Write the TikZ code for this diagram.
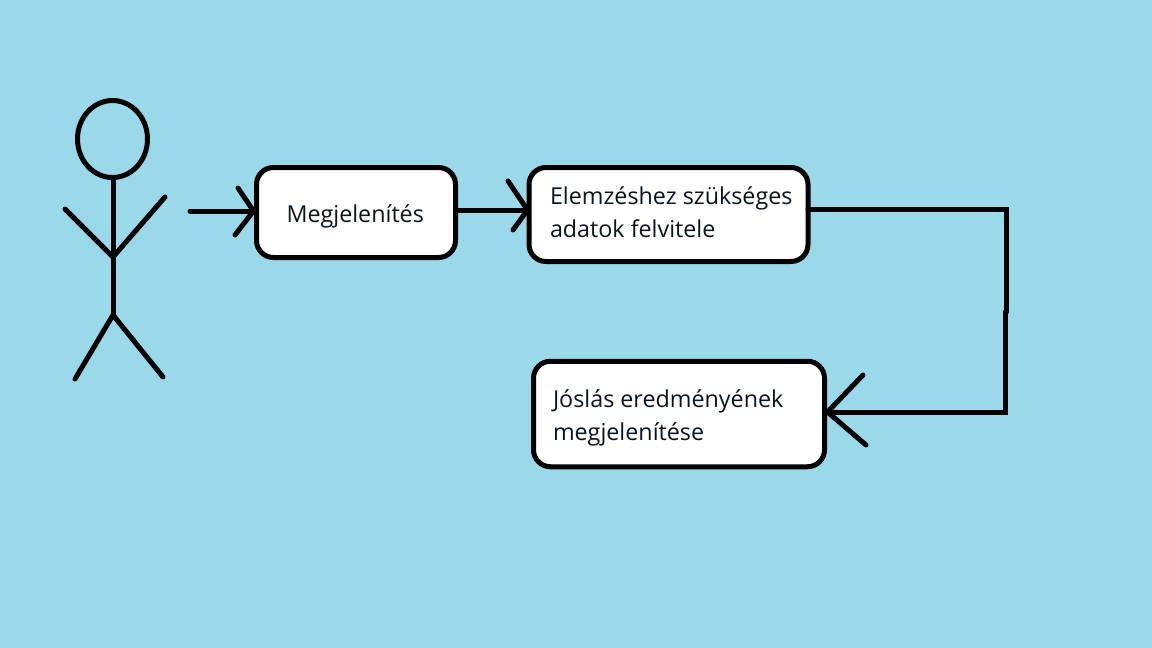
\documentclass[tikz,border=0pt]{standalone}
\usepackage{fontspec}
\setmainfont{Open Sans}
\definecolor{bgc}{HTML}{99D9EA}
\definecolor{txc}{HTML}{0A1420}
\tikzset{
  ink/.style={draw=black,line width=5pt,line cap=round,line join=round},
  conn/.style={draw=black,line width=5pt,line cap=round,line join=miter},
  boxn/.style={draw=black,fill=white,line width=5pt,rounded corners=17pt,inner sep=0pt,outer sep=0pt},
  lab/.style={font=\fontsize{23.3pt}{33pt}\selectfont,text=txc,align=left,inner sep=0pt,outer sep=0pt,anchor=west}
}
\begin{document}
\begin{tikzpicture}[x=1pt,y=-1pt]
\path[fill=bgc] (0,0) rectangle (1152,648);
\useasboundingbox (0,0) rectangle (1152,648);
% actor
\coordinate (headc) at (112.5,139);
\draw[ink] (headc) ellipse (35 and 38.5);
\coordinate (neck) at (113,178);
\coordinate (hip) at (113,315);
\coordinate (arms) at (113,257);
\draw[ink] (neck) -- (hip);
\coordinate (handl) at (65,209);
\coordinate (handr) at (165,197);
\coordinate (footl) at (75,379);
\coordinate (footr) at (163,377);
\draw[ink] (handl) -- (arms) -- (handr);
\draw[ink] (footl) -- (hip) -- (footr);
% boxes
\node[boxn,minimum width=199pt,minimum height=90pt] (box1) at (356,212.5) {};
\node[boxn,minimum width=279pt,minimum height=94pt] (box2) at (668.5,214.5) {};
\node[boxn,minimum width=291pt,minimum height=105.5pt] (box3) at (679,414) {};
\node[lab] (t1) at (286.5,216) {Megjelenítés};
\node[lab] (t2) at (550,212) {Elemzéshez szükséges\\adatok felvitele};
\node[lab] (t3) at (553,418) {Jóslás eredményének\\megjelenítése};
% connectors
\coordinate (s1) at (190,211);
\coordinate (tip1) at ([xshift=-3pt,yshift=1.5pt]box1.west);
\coordinate (h1a) at (238,188);
\coordinate (h1b) at (235,235);
\draw[conn] (s1) -- (tip1);
\draw[ink] (h1a) -- (tip1) -- (h1b);
\coordinate (s2) at ([yshift=2.5pt]box1.east);
\coordinate (tip2) at ([xshift=-1.5pt,yshift=4.5pt]box2.west);
\coordinate (h2a) at (508,181);
\coordinate (h2b) at (513,230);
\draw[conn] (s2) -- (tip2);
\draw[ink] (h2a) -- (tip2) -- (h2b);
\coordinate (s3) at ([yshift=5.5pt]box2.east);
\coordinate (c3a) at (1006.5,209);
\coordinate (c3b) at (1006.5,312);
\coordinate (c3c) at (1005,312);
\coordinate (c3d) at (1005,412);
\coordinate (tip3) at ([xshift=3pt,yshift=2pt]box3.east);
\coordinate (h3a) at (863,375);
\coordinate (h3b) at (866,445);
\draw[conn] (s3) -- (c3a) -- (c3b);
\draw[conn] (c3c) -- (c3d) -- (tip3);
\draw[ink] (h3a) -- (tip3) -- (h3b);
\end{tikzpicture}
\end{document}
